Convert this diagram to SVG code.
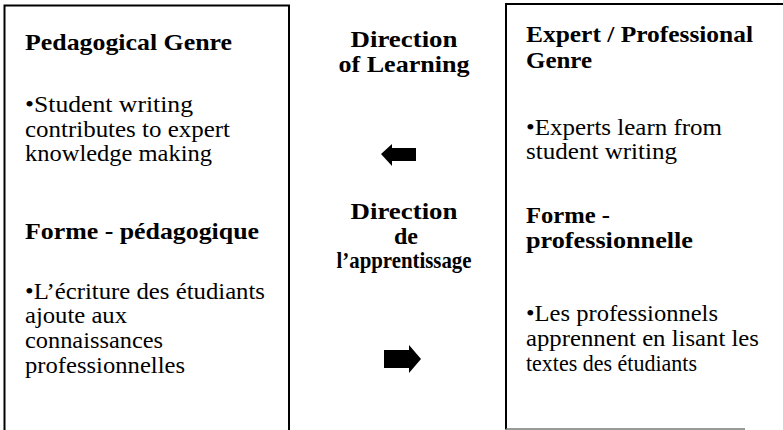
<svg xmlns="http://www.w3.org/2000/svg" width="783" height="430" viewBox="0 0 783 430">
<style>
text{font-family:"Liberation Serif",serif;fill:#000}
.b{font-weight:bold;font-size:24px}
.t{font-size:24px}
.m{text-anchor:middle}
.box{fill:none;stroke:#000;stroke-width:2}
.arr{fill:#000;stroke:none}
</style>
<rect width="783" height="430" fill="#fff"/>
<g id="node-pedagogical">
<path class="box" d="M4.5 432 V5.5 H289 V432"/>
<text class="b" x="25" y="50" textLength="207" lengthAdjust="spacingAndGlyphs">Pedagogical Genre</text>
<text class="t" x="25" y="112" textLength="168" lengthAdjust="spacingAndGlyphs">•Student writing</text>
<text class="t" x="25" y="137" textLength="205" lengthAdjust="spacingAndGlyphs">contributes to expert</text>
<text class="t" x="25" y="161" textLength="187" lengthAdjust="spacingAndGlyphs">knowledge making</text>
<text class="b" x="25" y="239" textLength="234" lengthAdjust="spacingAndGlyphs">Forme - pédagogique</text>
<text class="t" x="25" y="299" textLength="240" lengthAdjust="spacingAndGlyphs">•L’écriture des étudiants</text>
<text class="t" x="25" y="323" textLength="102" lengthAdjust="spacingAndGlyphs">ajoute aux</text>
<text class="t" x="25" y="348" textLength="138" lengthAdjust="spacingAndGlyphs">connaissances</text>
<text class="t" x="25" y="373" textLength="160" lengthAdjust="spacingAndGlyphs">professionnelles</text>
</g>
<g id="node-direction">
<text class="b m" x="404" y="47" textLength="107" lengthAdjust="spacingAndGlyphs">Direction</text>
<text class="b m" x="404" y="72" textLength="131" lengthAdjust="spacingAndGlyphs">of Learning</text>
<text class="b m" x="404" y="219" textLength="107" lengthAdjust="spacingAndGlyphs">Direction</text>
<text class="b m" x="406" y="244" textLength="24" lengthAdjust="spacingAndGlyphs">de</text>
<text class="b m" x="404" y="268" textLength="135" lengthAdjust="spacingAndGlyphs">l’apprentissage</text>
</g>
<g id="node-professional">
<path class="box" d="M785 4 H506 V429.5"/>
<line x1="506" y1="429" x2="745" y2="429" stroke="#777" stroke-width="1.5"/>
<text class="b" x="526" y="42" textLength="227" lengthAdjust="spacingAndGlyphs">Expert / Professional</text>
<text class="b" x="526" y="68" textLength="66" lengthAdjust="spacingAndGlyphs">Genre</text>
<text class="t" x="526" y="135" textLength="196" lengthAdjust="spacingAndGlyphs">•Experts learn from</text>
<text class="t" x="526" y="159" textLength="151" lengthAdjust="spacingAndGlyphs">student writing</text>
<text class="b" x="526" y="223" textLength="84" lengthAdjust="spacingAndGlyphs">Forme -</text>
<text class="b" x="526" y="248" textLength="167" lengthAdjust="spacingAndGlyphs">professionnelle</text>
<text class="t" x="526" y="321" textLength="192" lengthAdjust="spacingAndGlyphs">•Les professionnels</text>
<text class="t" x="526" y="346" textLength="233" lengthAdjust="spacingAndGlyphs">apprennent en lisant les</text>
<text class="t" x="526" y="371" textLength="171" lengthAdjust="spacingAndGlyphs">textes des étudiants</text>
</g>
<g id="connectors">
<polygon class="arr" points="381,154 392,144 392,148 416,148 416,161 392,161 392,166"/>
<polygon class="arr" points="421,359 409,345 409,350 384,350 384,368 409,368 409,373"/>
</g>
</svg>
